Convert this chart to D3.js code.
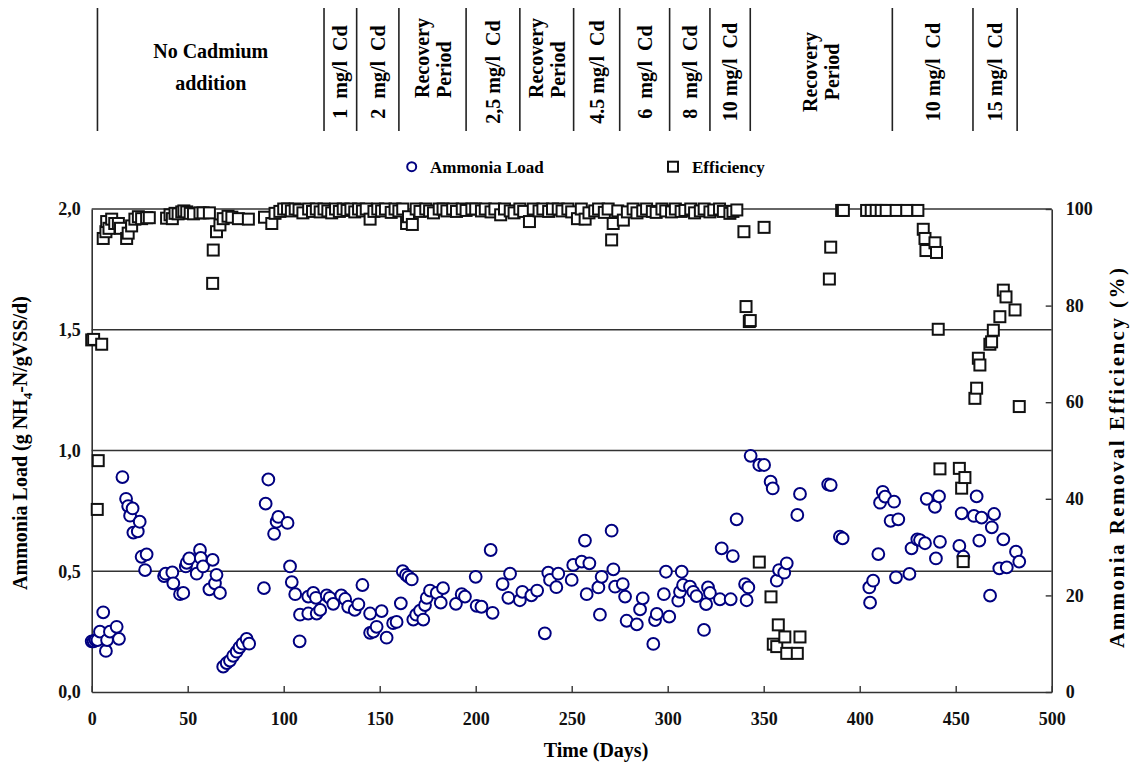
<!DOCTYPE html>
<html>
<head>
<meta charset="utf-8">
<script src="https://cdn.jsdelivr.net/npm/d3@7"></script>
<style>
  body { margin: 0; background: #fff; }
  svg { font-family: "Liberation Serif", "Times New Roman", serif; font-weight: bold; }
</style>
</head>
<body>
<script>
// Ammonia load (g NH4-N/gVSS/d) by day
const loadDays = [0,1,2,3,4.3,6,7.4,8,9.5,13,14.2,16,17.9,19,20,21.3,21.7,24,25,26,27.8,28.6,37.7,38.5,42,42.5,46,47.7,49,49.5,50.8,54.7,56.4,56.8,58,61.3,63,64.2,65,66.8,68.5,70.3,72,73.7,75.5,77,78.6,80.7,82,89.7,90.6,92,95,96.3,97.2,102,103.3,104.2,106,108.5,108.3,112.8,112.8,115.4,116.8,117.2,119,122.4,124,125.8,130,132,133.6,137,138.9,141,145,145,146.7,148.4,151,153.6,157,158.8,161,162,163.7,165,166.7,167.5,169,171,172.7,173.6,174.5,176.2,179.7,181.8,183,189.7,192.7,194.4,200,200.5,203,207.8,208.8,214,217,217.9,223,224.3,229,232,236,237.8,238.7,242,243,250,250.8,255.2,256.9,257.8,259.2,263.9,264.7,265.6,270.8,271.7,272.6,276.6,277.8,278.6,283.9,285.6,287,292.5,293.4,294.3,298,299.1,300.8,305.5,306.4,307.3,308,311.6,313.3,315,318.9,320,321,322,327.2,328.1,332.8,333.9,335.9,340.3,341.1,342,343.2,347.7,350.2,353.6,354.7,356.8,358,360.7,362,367.5,368.9,383.6,384.9,389.7,391.1,405,405.4,407,409.7,410.6,412,413.2,416.1,417.9,418.9,420.1,425.9,427,430,431.4,434,434.9,439.2,439.7,441.3,441.8,451.9,453.1,454,459.5,460.9,462.3,463.5,467.9,468.8,470,472.7,474.8,476.6,481.4,483.1];
const loadValues = [0.21,0.21,0.215,0.215,0.25,0.33,0.17,0.215,0.25,0.27,0.22,0.89,0.80,0.77,0.73,0.76,0.66,0.665,0.705,0.56,0.505,0.57,0.48,0.49,0.495,0.45,0.405,0.41,0.52,0.535,0.553,0.49,0.588,0.555,0.52,0.425,0.547,0.45,0.485,0.41,0.105,0.12,0.13,0.15,0.167,0.185,0.2,0.22,0.2,0.43,0.78,0.88,0.655,0.705,0.725,0.70,0.52,0.455,0.405,0.32,0.21,0.325,0.395,0.41,0.39,0.325,0.34,0.40,0.39,0.365,0.40,0.385,0.353,0.34,0.363,0.443,0.325,0.245,0.25,0.27,0.335,0.225,0.285,0.29,0.367,0.50,0.485,0.477,0.466,0.30,0.32,0.337,0.30,0.36,0.39,0.42,0.41,0.37,0.43,0.365,0.405,0.395,0.477,0.357,0.353,0.588,0.328,0.447,0.39,0.49,0.38,0.415,0.40,0.42,0.243,0.494,0.464,0.434,0.49,0.464,0.526,0.54,0.627,0.405,0.533,0.433,0.32,0.477,0.668,0.508,0.436,0.447,0.395,0.295,0.28,0.342,0.388,0.199,0.298,0.323,0.405,0.498,0.312,0.378,0.415,0.498,0.443,0.436,0.415,0.397,0.257,0.364,0.433,0.41,0.384,0.595,0.384,0.563,0.715,0.447,0.38,0.433,0.978,0.94,0.94,0.871,0.843,0.461,0.505,0.494,0.533,0.733,0.82,0.86,0.857,0.643,0.636,0.433,0.37,0.461,0.571,0.784,0.829,0.809,0.709,0.788,0.475,0.715,0.489,0.595,0.632,0.629,0.616,0.80,0.767,0.553,0.81,0.622,0.605,0.74,0.56,0.729,0.81,0.627,0.722,0.399,0.682,0.737,0.512,0.632,0.516,0.581,0.54];

// Ammonia removal efficiency (%) by day
const effDays = [0,1,2.9,3.4,5.2,6,7.4,7.8,9,10.4,12,13.9,15,18.2,19,20.8,22.5,24.3,26,28.6,30,39,40.8,42,43.4,45,46.9,48,49.5,51.3,53,56.4,58,61.3,63,63.3,65,66.8,68.5,71,73,76.4,81.6,90,93.8,95.5,98,100,102,104,106,108,110,113,115,117,119,121,123,125,127,129,131,133,135,137,139,141,143,145,147,149,151,153,156,158,160,162,164,165,167,169,171,174,176,178,181,183,185,188,190,193,195,198,200,203,205,208,210,213,215,218,220,223,225,228,230,233,235,238,240,243,245,248,250,253,255,257,259,262,264,267,269,270.8,271.6,274,276.9,279,282,284,287,289,292,294,297,299,302,304,307,309,312,314,317,319,322,324,327,329,332.4,334,336,339.7,340.8,342.5,343,347.7,350.2,353.8,355,356.8,357.6,361,362,367.5,368.9,384.2,384.9,390.6,391.5,403.6,406,408.6,411.2,413.8,419,424.5,430.3,433.1,434,434.5,439.2,440,440.9,441.8,451.9,453.1,453.9,454.8,460,460.9,461.8,462.6,467.8,468.7,469.6,473,474.8,476.2,480.9,483.1];
const effValues = [72.9,73,37.8,47.9,72,93.9,95.3,97.4,96,97.9,97,97,96,93.9,95,96.5,97.9,98.4,98,98.2,98.2,98.1,98.8,98,99.1,99,99.4,99.6,99.4,99.1,99,99.2,99.2,99.2,84.6,91.5,95.3,96.7,98,98.5,98.3,98,97.9,98.3,97,99.1,99.5,100,100,99.6,100,99.8,99.2,100,99.5,100,99.4,100,99.6,99.2,100,99.5,100,99.7,100,99.4,100,99.6,100,97.9,99.5,100,99.6,100,99.3,100,99.6,100,97,98.4,96.8,100,99.5,100,99.6,99.2,100,100,99.6,100,99.5,100,99.7,100,100,99.6,100,99.4,100,98.8,100,99.6,99.2,100,99.5,97.4,100,99.6,100,99.5,100,100,99.6,100,99.4,98,100,97.9,99.2,99.6,100,99.3,100,93.6,97,99.6,97.7,99.4,100,99.2,99.6,100,99.5,99.3,100,99.6,99.4,100,99.5,99.7,100,99.2,99.6,100,99.4,99.8,100,99.5,99.1,99.5,99.8,95.3,79.8,76.7,76.9,26.9,96.2,19.7,9.9,9.4,13.9,11.4,8,8,11.4,85.5,92.1,99.7,99.7,99.7,99.7,99.7,99.7,99.7,99.7,99.7,99.7,95.8,93.9,91.4,93,91,75.1,46.2,46.3,42.2,27,44.4,60.8,62.9,69.1,67.7,72,72.5,74.9,77.7,83.2,81.8,79.1,59.1];

// Treatment periods shown above the chart (boundaries in days)
const periodBounds = [3,121,138,160,195,223,251,275,301,322,343,417,459,482];
const periodLabels = [
  ["No Cadmium", "addition"],
  ["1  mg/l  Cd"],
  ["2  mg/l  Cd"],
  ["Recovery", "Period"],
  ["2,5 mg/l  Cd"],
  ["Recovery", "Period"],
  ["4.5 mg/l  Cd"],
  ["6  mg/l  Cd"],
  ["8  mg/l  Cd"],
  ["10 mg/l  Cd"],
  ["Recovery", "Period"],
  ["10 mg/l  Cd"],
  ["15 mg/l  Cd"]
];

const loadTicks = [0, 0.5, 1, 1.5, 2];
const effTicks = [0, 20, 40, 60, 80, 100];
const dayTicks = [0, 50, 100, 150, 200, 250, 300, 350, 400, 450, 500];

const W = 1133, H = 763;
const plotL = 91.7, plotR = 1051.7, plotT = 209, plotB = 692;
const navy = "#000080";

const svg = d3.select("body").append("svg")
  .attr("width", W).attr("height", H);

const x = d3.scaleLinear().domain([0, 500]).range([plotL, plotR]);
const yL = d3.scaleLinear().domain([0, 2]).range([plotB, plotT]);
const yR = d3.scaleLinear().domain([0, 100]).range([plotB, plotT]);

const commaFmt = d3.formatLocale({decimal: ",", thousands: ".", grouping: [3], currency: ["", ""]}).format(".1f");

// gridlines
svg.append("g").selectAll("line")
  .data(loadTicks.filter(d => d > 0))
  .join("line")
  .attr("x1", plotL).attr("x2", plotR)
  .attr("y1", d => yL(d)).attr("y2", d => yL(d))
  .attr("stroke", "#333").attr("stroke-width", 1.3);

// axes
const axisStyle = g => {
  g.select(".domain").attr("stroke", "#333").attr("stroke-width", 1.6);
  g.selectAll(".tick line").attr("stroke", "#333").attr("stroke-width", 1.4);
  g.selectAll("text").attr("font-family", "Liberation Serif").attr("font-weight", "bold")
    .attr("font-size", 18).attr("fill", "#111");
};

svg.append("g").attr("transform", `translate(0,${plotB})`)
  .call(d3.axisBottom(x).tickValues(dayTicks).tickSizeInner(-6).tickSizeOuter(0).tickPadding(20))
  .call(axisStyle);

svg.append("g").attr("transform", `translate(${plotL},0)`)
  .call(d3.axisLeft(yL).tickValues(loadTicks).tickFormat(commaFmt).tickSize(0).tickPadding(11))
  .call(axisStyle);

svg.append("g").attr("transform", `translate(${plotR},0)`)
  .call(d3.axisRight(yR).tickValues(effTicks).tickSizeInner(-6).tickSizeOuter(0).tickPadding(14))
  .call(axisStyle);

// ammonia load circles
const load = loadDays.map((d, i) => ({day: d, v: loadValues[i]}));
svg.append("g").selectAll("circle")
  .data(load)
  .join("circle")
  .attr("cx", d => x(d.day)).attr("cy", d => yL(d.v))
  .attr("r", 5.9)
  .attr("fill", "#fff").attr("stroke", navy).attr("stroke-width", 2);

// efficiency squares
const eff = effDays.map((d, i) => ({day: d, v: effValues[i]}));
const s = 11;
svg.append("g").selectAll("rect")
  .data(eff)
  .join("rect")
  .attr("x", d => x(d.day) - s / 2).attr("y", d => yR(d.v) - s / 2)
  .attr("width", s).attr("height", s)
  .attr("fill", "#fff").attr("stroke", "#111").attr("stroke-width", 2);

// axis titles
svg.append("text")
  .attr("x", 596).attr("y", 757)
  .attr("text-anchor", "middle").attr("font-size", 20)
  .text("Time (Days)");

const lt = svg.append("text")
  .attr("transform", "translate(27,443) rotate(-90)")
  .attr("text-anchor", "middle").attr("font-size", 20);
lt.append("tspan").text("Ammonia Load (g NH");
lt.append("tspan").attr("font-size", 13).attr("dy", 5).text("4");
lt.append("tspan").attr("dy", -5).text("-N/gVSS/d)");

svg.append("text")
  .attr("transform", "translate(1124,458) rotate(-90)")
  .attr("text-anchor", "middle").attr("font-size", 21)
  .attr("textLength", 380).attr("lengthAdjust", "spacing")
  .text("Ammonia Removal Efficiency (%)");

// legend
svg.append("circle").attr("cx", 411.7).attr("cy", 166.7).attr("r", 4.5)
  .attr("fill", "#fff").attr("stroke", navy).attr("stroke-width", 2);
svg.append("text").attr("x", 430).attr("y", 172.5).attr("font-size", 17).text("Ammonia Load");
svg.append("rect").attr("x", 668).attr("y", 161.7).attr("width", 10).attr("height", 10)
  .attr("fill", "#fff").attr("stroke", "#111").attr("stroke-width", 2);
svg.append("text").attr("x", 692).attr("y", 172.5).attr("font-size", 17).text("Efficiency");

// header period separators
svg.append("g").selectAll("line")
  .data(periodBounds)
  .join("line")
  .attr("x1", d => x(d)).attr("x2", d => x(d))
  .attr("y1", 8).attr("y2", 131)
  .attr("stroke", "#222").attr("stroke-width", 1.6);

// header labels
const header = svg.append("g").attr("font-size", 20);
periodLabels.forEach((lines, i) => {
  const cx = (x(periodBounds[i]) + x(periodBounds[i + 1])) / 2;
  if (i === 0) {
    lines.forEach((t, j) => {
      header.append("text").attr("x", cx).attr("y", 58 + j * 32)
        .attr("text-anchor", "middle").text(t);
    });
    return;
  }
  const bottomAligned = lines.length === 2 && i < 10;
  lines.forEach((t, j) => {
    const off = lines.length === 2 ? (j === 0 ? -11 : 11) : 0;
    const bx = cx + off + 7;
    const by = bottomAligned ? 98 : 72;
    header.append("text")
      .attr("transform", `translate(${bx},${by}) rotate(-90)`)
      .attr("text-anchor", bottomAligned ? "start" : "middle")
      .style("white-space", "pre")
      .text(t);
  });
});
</script>
</body>
</html>
